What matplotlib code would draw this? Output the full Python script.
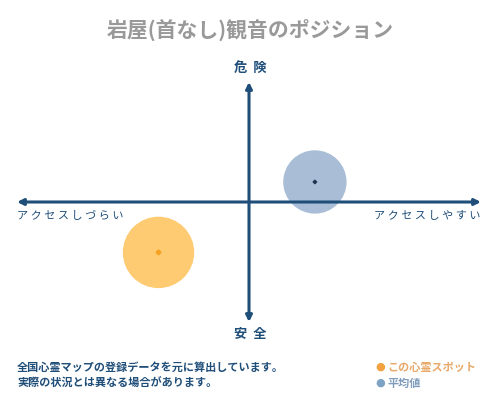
import matplotlib
matplotlib.use("Agg")
import matplotlib.pyplot as plt

plt.rcParams['font.family'] = ['Noto Sans CJK JP', 'DejaVu Sans']

# data (x: アクセス, y: 危険度) in [-1, 1]
spot_names = ["この心霊スポット", "平均値"]
spot_x = [-0.39, 0.284]
spot_y = [-0.42, 0.167]
spot_size = [2540, 1990]

title = "岩屋(首なし)観音のポジション"
label_top = "危  険"
label_bottom = "安  全"
label_left = "アクセスしづらい"
label_right = "アクセスしやすい"
notes = ["全国心霊マップの登録データを元に算出しています。",
         "実際の状況とは異なる場合があります。"]

navy = "#1f4e79"
fill_colors = ["#fecb72", "#a9bed6"]
dot_colors = ["#f5a020", "#1f3550"]
legend_dot = ["#f2a040", "#7fa3c4"]
legend_text = ["#e8a868", "#7f9dbb"]


def spaced(s):
    return " ".join(s)


fig = plt.figure(figsize=(5, 4), dpi=100)
fig.patch.set_facecolor("white")
ax = fig.add_axes([17 / 500, 78 / 400, 464 / 500, 240 / 400])
ax.set_xlim(-1, 1)
ax.set_ylim(-1, 1)
ax.axis("off")

ax.scatter(spot_x, spot_y, s=spot_size, c=fill_colors, zorder=2)
ax.scatter(spot_x, spot_y, s=[6, 3], c=dot_colors, marker="D", zorder=4)

arrow = dict(arrowstyle="<|-|>", lw=2.2, color=navy, mutation_scale=9,
             shrinkA=0, shrinkB=0)
ax.annotate("", xy=(1, 0), xytext=(-1, 0), arrowprops=arrow, zorder=3)
ax.annotate("", xy=(0, 1), xytext=(0, -1), arrowprops=arrow, zorder=3)

fig.text(0.5, 0.925, title, ha="center", va="center", fontsize=15,
         color="#999999", fontweight="bold")
fig.text(0.5, 1 - 68 / 400, label_top, ha="center", va="center",
         fontsize=9.5, color=navy, fontweight="bold")
fig.text(0.5, 1 - 334 / 400, label_bottom, ha="center", va="center",
         fontsize=9.5, color=navy, fontweight="bold")
fig.text(17 / 500, 1 - 216 / 400, spaced(label_left), ha="left",
         va="center", fontsize=8, color=navy)
fig.text(481 / 500, 1 - 216 / 400, spaced(label_right), ha="right",
         va="center", fontsize=8, color=navy)

for i, line in enumerate(notes):
    fig.text(17 / 500, 1 - (367 + 16 * i) / 400, line, ha="left",
             va="center", fontsize=8, color=navy, fontweight="bold")

for i, name in enumerate(spot_names):
    yy = 1 - (367 + 16 * i) / 400
    fig.text(380 / 500, yy, "●", ha="center", va="center", fontsize=8,
             color=legend_dot[i], family=["DejaVu Sans"])
    fig.text(387 / 500, yy, name, ha="left", va="center", fontsize=8,
             color=legend_text[i], fontweight="bold")

fig.savefig("out.png", dpi=100, facecolor="white")
